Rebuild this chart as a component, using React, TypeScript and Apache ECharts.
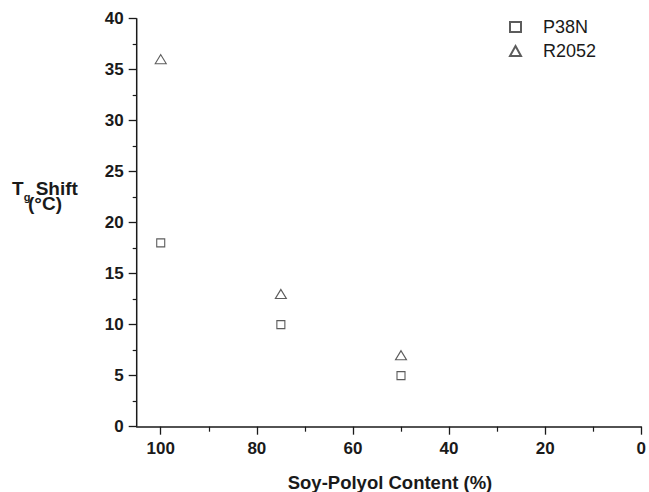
import React, { useEffect, useRef } from "react";
import * as echarts from "echarts";

const soyContent = [100, 75, 50];
const p38nValues = [18, 10, 5];
const r2052Values = [36, 13, 7];
const xMajorTicks = [0, 20, 40, 60, 80, 100];
const seriesNames = ["P38N", "R2052"];

const FONT = "'Liberation Sans', Arial, sans-serif";
const INK = "#1a1a1a";

export default function App() {
  const ref = useRef<HTMLDivElement>(null);
  useEffect(() => {
    if (!ref.current) return;
    const chart = echarts.init(ref.current, undefined, { renderer: "svg" });
    const markerStyle = { color: "#ffffff", borderColor: "#333", borderWidth: 1.1 };
    chart.setOption({
      animation: false,
      backgroundColor: "#ffffff",
      grid: { left: 136.7, right: 5.4, top: 18.3, bottom: 65.3 },
      legend: {
        orient: "vertical",
        left: 504,
        top: 13,
        itemWidth: 11,
        itemHeight: 10,
        itemGap: 6,
        textStyle: { fontFamily: FONT, fontSize: 18, color: INK, padding: [0, 0, 0, 17] },
        data: seriesNames,
      },
      xAxis: {
        type: "value",
        inverse: true,
        min: 0,
        max: 105,
        position: "bottom",
        axisLine: { show: true, onZero: false, lineStyle: { color: INK, width: 1.5 } },
        axisTick: { show: true, customValues: xMajorTicks, length: 8, lineStyle: { color: INK, width: 1.3 } },
        minorTick: { show: true, splitNumber: 2, length: 5, lineStyle: { color: INK, width: 1.2 } },
        axisLabel: {
          customValues: xMajorTicks,
          fontFamily: FONT,
          fontWeight: "bold",
          fontSize: 17,
          color: INK,
          margin: 13,
        },
        splitLine: { show: false },
        minorSplitLine: { show: false },
      },
      yAxis: {
        type: "value",
        min: 0,
        max: 40,
        interval: 5,
        position: "left",
        axisLine: { show: false, onZero: false },
        axisTick: { show: true, length: 8, lineStyle: { color: INK, width: 1.3 } },
        minorTick: { show: true, splitNumber: 2, length: 4, lineStyle: { color: INK, width: 1.2 } },
        axisLabel: { fontFamily: FONT, fontWeight: "bold", fontSize: 17, color: INK, margin: 13 },
        splitLine: { show: false },
        minorSplitLine: { show: false },
      },
      series: [
        {
          name: seriesNames[0],
          type: "scatter",
          symbol: "rect",
          symbolSize: 8,
          itemStyle: markerStyle,
          data: soyContent.map((x, i) => [x, p38nValues[i]]),
        },
        {
          name: seriesNames[1],
          type: "scatter",
          symbol: "triangle",
          symbolSize: [11, 9],
          itemStyle: markerStyle,
          data: soyContent.map((x, i) => [x, r2052Values[i]]),
        },
      ],
      graphic: [
        {
          id: "ytitle",
          type: "text",
          x: 45,
          y: 179,
          style: {
            text: "{m|T}{s|g}{m| Shift}\n{c|(°C)}",
            align: "center",
            verticalAlign: "top",
            rich: {
              m: { font: `bold 19px ${FONT}`, fill: INK, verticalAlign: "top", lineHeight: 19 },
              s: { font: `bold 11px ${FONT}`, fill: INK, verticalAlign: "top", lineHeight: 11, padding: [12, 0, 0, 0] },
              c: { font: `bold 19px ${FONT}`, fill: INK, lineHeight: 11 },
            },
          },
        },
        {
          id: "xtitle",
          type: "text",
          x: 390,
          y: 473,
          style: { text: "Soy-Polyol Content (%)", font: `bold 18.5px ${FONT}`, fill: INK, align: "center" },
        },
      ],
    });
    const xExtent = 105;
    const pTop = chart.convertToPixel({ gridIndex: 0 }, [xExtent, 40]) as number[];
    const pBottom = chart.convertToPixel({ gridIndex: 0 }, [xExtent, 0]) as number[];
    chart.setOption({
      graphic: [
        {
          id: "yline",
          type: "line",
          shape: { x1: pTop[0], y1: pTop[1], x2: pBottom[0], y2: pBottom[1] },
          style: { stroke: INK, lineWidth: 1.5 },
          z: 5,
        },
      ],
    });
    return () => chart.dispose();
  }, []);
  return <div ref={ref} style={{ width: 649, height: 492, position: "absolute", left: 0, top: 0 }} />;
}
